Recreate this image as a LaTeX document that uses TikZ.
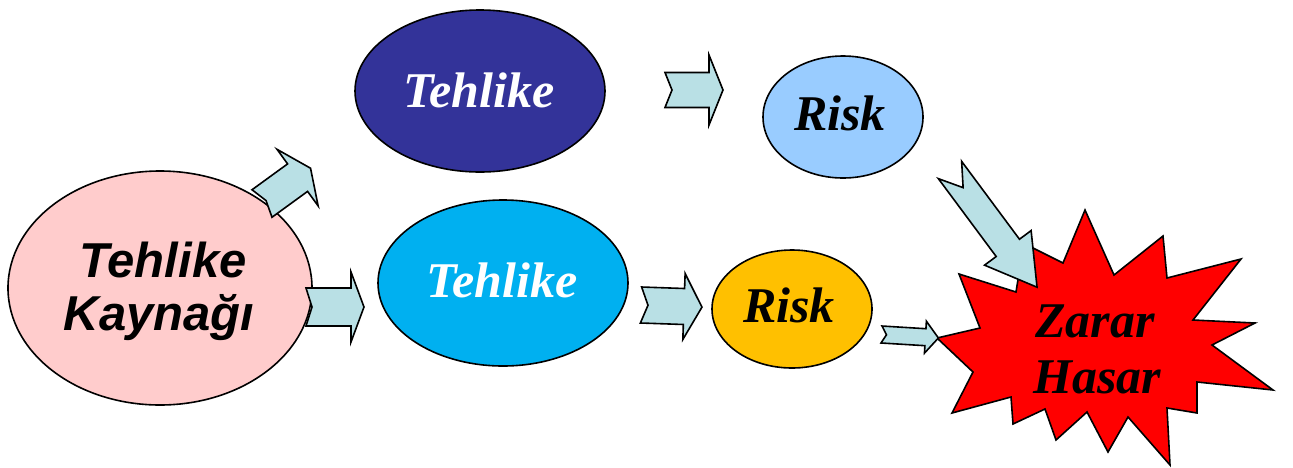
\documentclass[tikz,border=0pt]{standalone}
\usepackage{fontspec}
\usetikzlibrary{shapes.geometric}
\newfontfamily\kfont{Liberation Sans}
\newfontfamily\tfont{Liberation Serif}
\definecolor{pinkfill}{HTML}{FFCCCC}
\definecolor{navyfill}{HTML}{333399}
\definecolor{cyanfill}{HTML}{00B0F0}
\definecolor{skyfill}{HTML}{99CCFF}
\definecolor{goldfill}{HTML}{FFC000}
\definecolor{arrowfill}{RGB}{185,224,229}
\newcommand{\blockarrow}[7]{%
  \draw[arrowshape, shift={(#1)}, rotate=#2]
    (0,#4) -- ({#3-#6},#4) -- ({#3-#6},#5) -- (#3,0) -- ({#3-#6},-#5)
    -- ({#3-#6},-#4) -- (0,-#4) -- (#7,0) -- cycle;}
\tikzset{
  oval/.style={ellipse, draw=black, line width=1.6pt, inner sep=0pt, outer sep=0pt},
  arrowshape/.style={draw=black, fill=arrowfill, line width=1.6pt, line join=miter},
  sanslabel/.style={font=\kfont\bfseries\itshape\fontsize{49}{54}\selectfont, anchor=base, inner sep=0pt, align=center},
  seriflabel/.style={font=\tfont\bfseries\itshape\fontsize{50}{55}\selectfont, anchor=base, inner sep=0pt},
}
\begin{document}
\begin{tikzpicture}[x=1pt, y=-1pt]
\useasboundingbox (0,0) rectangle (1293,467);
% ellipses
\node[oval, fill=pinkfill, minimum width=304pt, minimum height=234pt] (src) at (160,288) {};
\node[oval, fill=navyfill, minimum width=250pt, minimum height=162pt] (haz1) at (480,91) {};
\node[oval, fill=cyanfill, minimum width=250pt, minimum height=166pt] (haz2) at (503,283) {};
\node[oval, fill=skyfill, minimum width=160pt, minimum height=122pt] (risk1) at (843,117) {};
\node[oval, fill=goldfill, minimum width=160pt, minimum height=118pt] (risk2) at (792,309) {};
% star
\draw[fill=red, line width=1.6pt, line join=miter] (1085,210) -- (1114,275) -- (1163,236) -- (1167,278) -- (1241,259) -- (1193,320) -- (1255,323) -- (1212,345) -- (1273,390) -- (1197,382) -- (1197,413) -- (1167,408) -- (1170,465) -- (1128,417) -- (1108,452) -- (1087,412) -- (1056,440) -- (1045,409) -- (1013,424) -- (1011,397) -- (952,413) -- (973,372) -- (937,338) -- (980,328) -- (959,274) -- (1016,292) -- (1024,242) -- (1033,248) -- (1063,263) -- cycle;
% texts
\node[sanslabel] (srcA) at (163,277) {Tehlike};
\node[sanslabel] (srcB) at (159,330) {Kaynağı};
\node[seriflabel, text=white] (haz1t) at (479,107) {Tehlike};
\node[seriflabel, text=white] (haz2t) at (502,297) {Tehlike};
\node[seriflabel] (risk1t) at (840,130) {Risk};
\node[seriflabel] (risk2t) at (789,322) {Risk};
\node[seriflabel] (dmgA) at (1095,337) {Zarar};
\node[seriflabel] (dmgB) at (1097,393) {Hasar};
% block arrows
\blockarrow{262,203.5}{36}{60}{17}{35}{16}{5}
\blockarrow{306,307}{0}{58}{19}{35}{13}{6}
\blockarrow{665,90}{0}{58}{17.5}{35}{14}{7}
\blockarrow{641,305}{-2}{61}{18}{33}{18}{7}
\blockarrow{881.5,334.5}{-3.5}{57}{8.5}{16}{13}{5}
\blockarrow{950,170}{-53.4}{146}{14.5}{29}{49}{22}
\end{tikzpicture}
\end{document}
